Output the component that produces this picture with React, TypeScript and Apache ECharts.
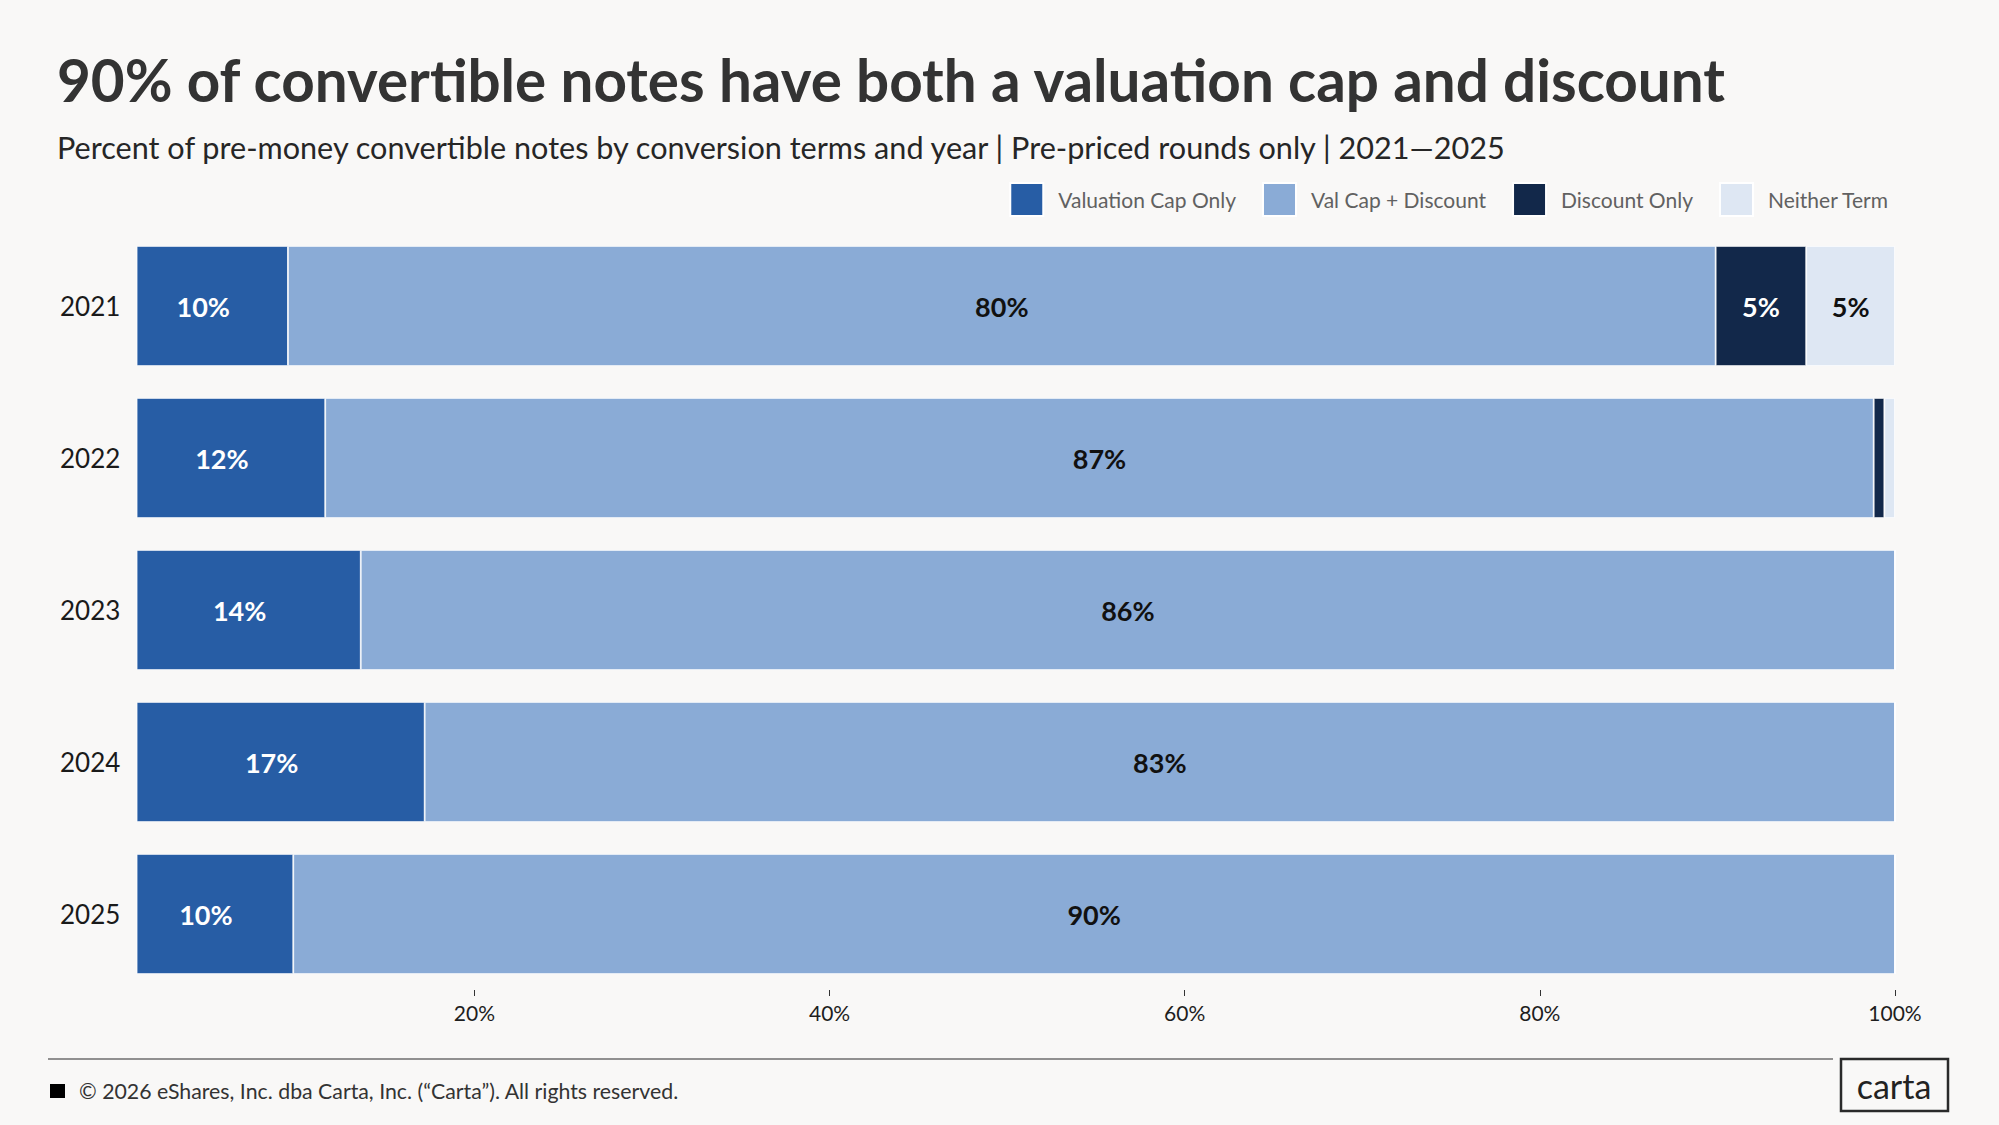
import React, { useEffect, useRef } from "react";
import * as echarts from "echarts";

const years = ["2021", "2022", "2023", "2024", "2025"];
const seriesNames = ["Valuation Cap Only", "Val Cap + Discount", "Discount Only", "Neither Term"];
const valuationCapOnly = [9.5, 11.6, 13.6, 17.2, 9.8];
const valCapDiscount = [80.4, 87.2, 86.4, 82.8, 90.2];
const discountOnly = [5.1, 0.6, 0, 0, 0];
const neitherTerm = [5.0, 0.6, 0, 0, 0];
const xTicks = [20, 40, 60, 80, 100];

const titleText = "90% of convertible notes have both a valuation cap and discount";
const subtitleText =
  "Percent of pre-money convertible notes by conversion terms and year | Pre-priced rounds only | 2021\u20142025";
const footerText = "\u00a9 2026 eShares, Inc. dba Carta, Inc. (\u201cCarta\u201d). All rights reserved.";

const colors = ["#275da5", "#8aabd6", "#12284a", "#dee7f3"];
const labelColors = ["#ffffff", "#111111", "#ffffff", "#111111"];
const FONT = "Lato";

export default function App() {
  const ref = useRef<HTMLDivElement>(null);
  useEffect(() => {
    document.body.style.margin = "0";
    document.body.style.background = "#f9f8f7";
    const chart = echarts.init(ref.current!, undefined, { renderer: "svg" });
    const data = [valuationCapOnly, valCapDiscount, discountOnly, neitherTerm];
    chart.setOption({
      animation: false,
      backgroundColor: "#f9f8f7",
      textStyle: { fontFamily: FONT },
      legend: {
        right: 105,
        top: 177,
        itemWidth: 33,
        itemHeight: 33,
        itemGap: 26,
        icon: "rect",
        selectedMode: false,
        data: seriesNames,
        textStyle: { fontFamily: FONT, fontSize: 21, color: "#616161", padding: [0, 0, 0, 10] },
      },
      grid: { left: 137, right: 104, top: 230, height: 760 },
      xAxis: {
        type: "value",
        min: 1,
        max: 100,
        axisLine: { show: false },
        splitLine: { show: false },
        axisTick: { show: true, customValues: xTicks, length: 6, lineStyle: { color: "#333", width: 1 } },
        axisLabel: {
          customValues: xTicks,
          formatter: "{value}%",
          fontFamily: FONT,
          fontSize: 21,
          color: "#1e1e1e",
          margin: 12,
        },
      },
      yAxis: {
        type: "category",
        data: years,
        inverse: true,
        axisLine: { show: false },
        axisTick: { show: false },
        axisLabel: { align: "left", margin: 77, fontFamily: FONT, fontSize: 26, color: "#1a1a1a" },
      },
      series: seriesNames.map((name, i) => ({
        name,
        type: "bar",
        stack: "total",
        barCategoryGap: "21%",
        data: data[i],
        itemStyle: { color: colors[i], borderColor: "#ffffff", borderWidth: 0.8 },
        label: {
          show: true,
          position: "inside",
          offset: i === 0 ? [-9, 0] : [0, 0],
          fontFamily: FONT,
          fontWeight: "bold",
          fontSize: 27,
          color: labelColors[i],
          formatter: (p: any) => (p.value >= 2 ? Math.round(p.value) + "%" : ""),
        },
      })),
      graphic: [
        {
          type: "text",
          left: 57,
          top: 50,
          style: { text: titleText, fontFamily: FONT, fontWeight: "bold", fontSize: 58.4, fill: "#333333" },
        },
        {
          type: "text",
          left: 57,
          top: 132,
          style: { text: subtitleText, fontFamily: FONT, fontSize: 30.6, fill: "#262626" },
        },
        {
          type: "line",
          shape: { x1: 48, y1: 1059, x2: 1833, y2: 1059 },
          style: { stroke: "#6e6e6e", lineWidth: 1.5 },
        },
        { type: "rect", shape: { x: 50, y: 1084, width: 15, height: 14 }, style: { fill: "#000" } },
        {
          type: "text",
          x: 79,
          y: 1091,
          style: { text: footerText, fontFamily: FONT, fontSize: 21.3, fill: "#333", verticalAlign: "middle" },
        },
        {
          type: "rect",
          shape: { x: 1841, y: 1059, width: 107, height: 52 },
          style: { fill: "none", stroke: "#2a2a2a", lineWidth: 2.5 },
        },
        {
          type: "text",
          x: 1894,
          y: 1085,
          style: {
            text: "carta",
            fontFamily: FONT,
            fontSize: 34,
            fill: "#222",
            align: "center",
            verticalAlign: "middle",
          },
        },
      ],
    });
    return () => chart.dispose();
  }, []);
  return <div ref={ref} style={{ width: 1999, height: 1125 }} />;
}
